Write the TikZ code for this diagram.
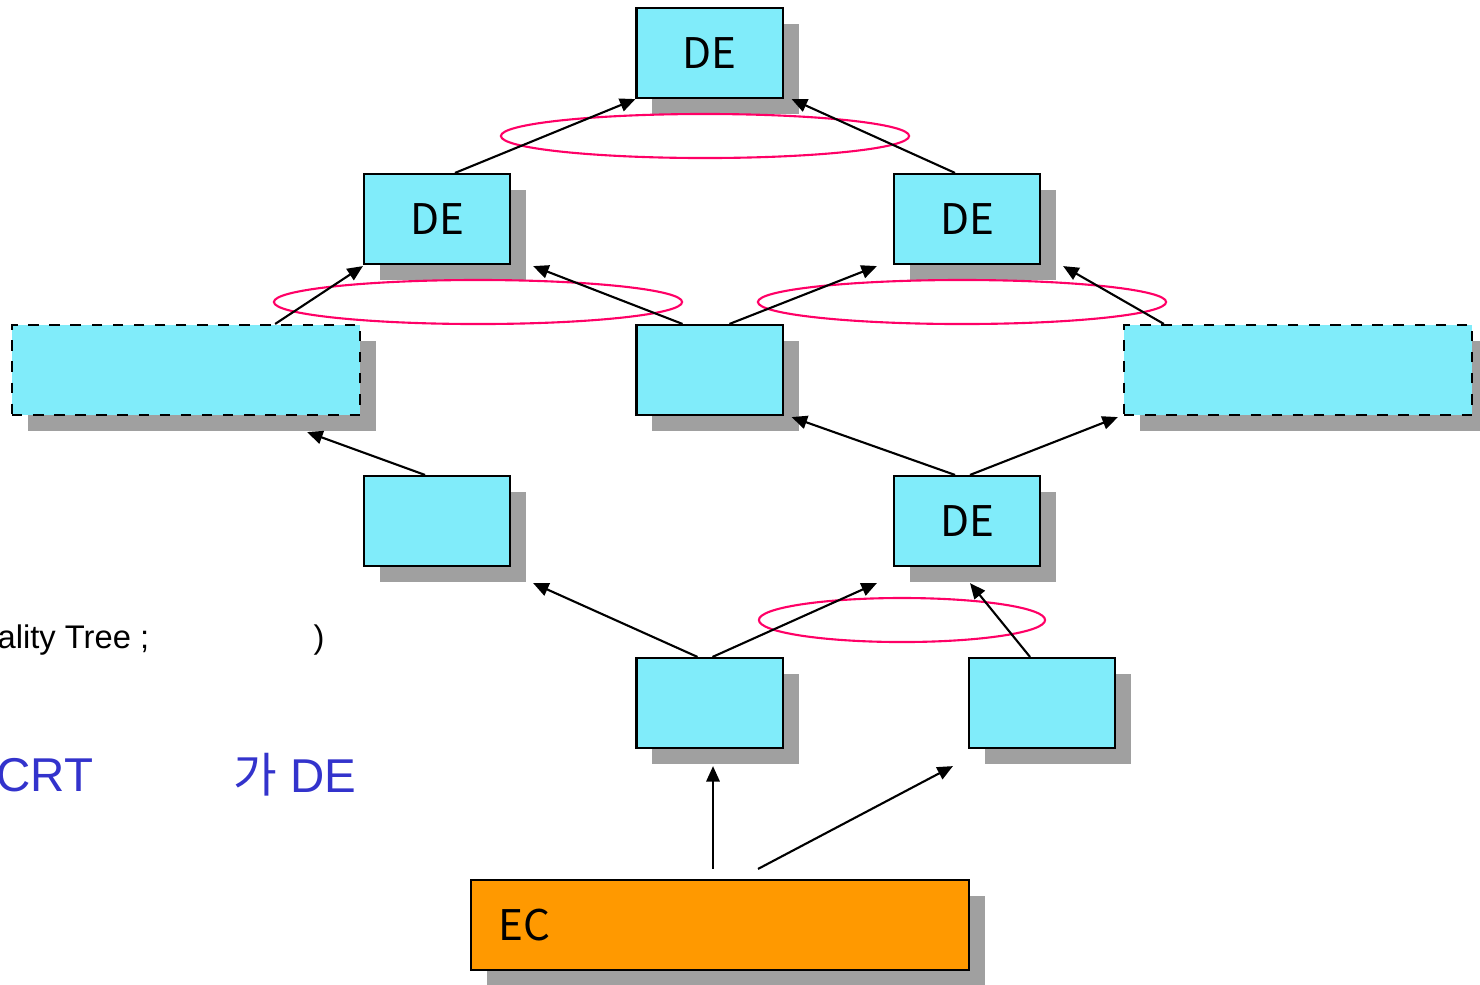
\documentclass[tikz,border=0pt]{standalone}
\usepackage{fontspec}
\setmainfont{Liberation Sans}
\newfontfamily\krfont{Noto Sans CJK KR}
\usetikzlibrary{arrows.meta,positioning,calc,shapes.geometric,shadows}
\definecolor{deblue}{RGB}{128,236,250}
\definecolor{ecorange}{RGB}{255,153,0}
\definecolor{pairpink}{RGB}{255,0,102}
\definecolor{shadowgray}{RGB}{160,160,160}
\definecolor{notebluetext}{RGB}{51,51,204}

\begin{document}
\begin{tikzpicture}[
    x=0.01cm, y=-0.01cm,
    every node/.style={font=\fontsize{13.5}{15}\selectfont},
    box/.style={draw, line width=0.6pt, fill=deblue, inner sep=0pt, minimum width=1.46cm, minimum height=0.9cm,
      font=\krfont\fontsize{12}{14}\selectfont,
      drop shadow={shadow xshift=0.16cm, shadow yshift=-0.16cm, fill=shadowgray, opacity=1}},
    widebox/.style={box, dashed, minimum width=3.48cm},
    pair/.style={draw=pairpink, line width=0.6pt, ellipse, inner sep=0pt, minimum width=4.08cm, minimum height=0.44cm},
    link/.style={-{Triangle[length=4.4pt, width=3.8pt]}, line width=0.6pt}
  ]
    \clip (0,0) rectangle (1480,984);

    \node[box] (top) at (709.5,53) {DE};
    \node[box] (del) at (437,219) {DE};
    \node[box] (der) at (967,219) {DE};
    \node[widebox] (wl) at (186,370) {};
    \node[box] (mid) at (709.5,370) {};
    \node[widebox] (wr) at (1298,370) {};
    \node[box] (bl) at (437,521) {};
    \node[box] (dem) at (967,521) {DE};
    \node[box] (lowl) at (709.5,703) {};
    \node[box] (lowr) at (1042,703) {};
    \node[box, fill=ecorange, minimum width=4.98cm, text width=4.42cm, inner xsep=0.28cm, align=left] (ec) at (720,925) {EC};

    \node[pair] (ptop) at (705,136) {};
    \node[pair] (pleft) at (478,302) {};
    \node[pair] (pright) at (962,302) {};
    \node[pair, minimum width=2.86cm] (plow) at (902,620) {};

    \node[anchor=west, inner sep=0pt, font=\fontsize{9.3}{11}\selectfont] (tree) at (-3,640) {ality Tree ;};
    \node[inner sep=0pt, font=\fontsize{9.3}{11}\selectfont] (close) at (319,640) {)};
    \node[anchor=west, inner sep=0pt, text=notebluetext] (crt) at (-4,775) {CRT};
    \node[anchor=west, inner sep=0pt, text=notebluetext] (gade) at (233,775) {{\krfont 가} DE};

    \draw[link] ($(del.north)+(18,0)$) -- (top.south west);
    \draw[link] ($(der.north)+(-12,0)$) -- ($(top.south east)+(8,0)$);
    \draw[link] ($(wl.north east)+(-86,0)$) -- ($(del.south west)+(0,1)$);
    \draw[link] ($(mid.north)+(-27,0)$) -- ($(del.south east)+(22,1)$);
    \draw[link] ($(mid.north)+(20,0)$) -- ($(der.south west)+(-16,1)$);
    \draw[link] ($(wr.north west)+(41,0)$) -- ($(der.south east)+(22,1)$);
    \draw[link] ($(bl.north)+(-12,0)$) -- ($(wl.south east)+(-54,16)$);
    \draw[link] ($(dem.north)+(-12,0)$) -- ($(mid.south east)+(8,1)$);
    \draw[link] ($(dem.north)+(3,0)$) -- ($(wr.south west)+(-5,1)$);
    \draw[link] ($(lowl.north)+(-12,0)$) -- ($(bl.south east)+(22,16)$);
    \draw[link] ($(lowl.north)+(3,0)$) -- ($(dem.south west)+(-16,16)$);
    \draw[link] ($(lowr.north)+(-12,0)$) -- ($(dem.south)+(3,16)$);
    \draw[link] ($(ec.north)+(-7,-10)$) -- ($(lowl.south)+(3.5,17)$);
    \draw[link] ($(ec.north)+(38,-10)$) -- ($(lowr.south west)+(-15,17)$);
  \end{tikzpicture}
\end{document}
